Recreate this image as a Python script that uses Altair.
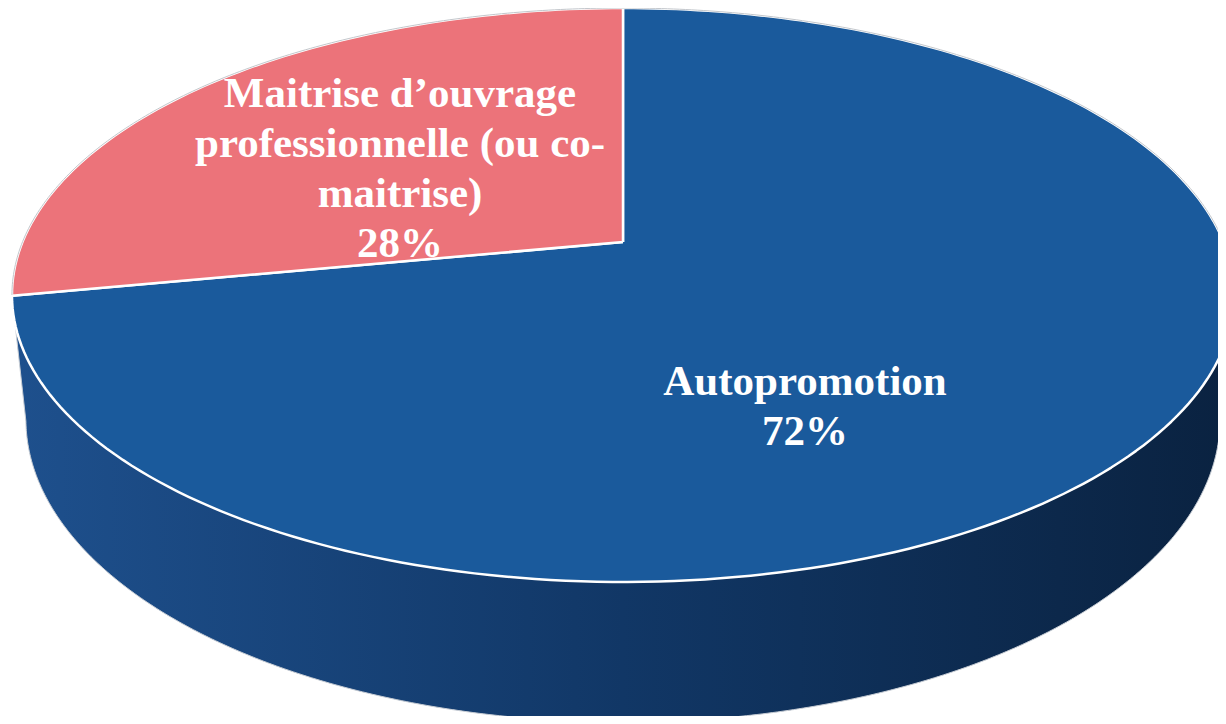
import numpy as np
import pandas as pd
import altair as alt

# ---------------- data ----------------
categories = ["Autopromotion", "Maitrise d’ouvrage professionnelle (ou co-maitrise)"]
values = [72, 28]
label_lines = [["Autopromotion"], ["Maitrise d’ouvrage", "professionnelle (ou co-", "maitrise)"]]

# ---------------- style / layout ----------------
top_colors = ["#1a5a9c", "#ec737a"]
side_stops = [
    ["#1e508d", "#113766", "#0a2240"],
    ["#b65a60", "#9a474c", "#7d3539"],
]
CX, CY = 623.0, 242.0          # screen position of the pie centre
F, D = 2885.0, 4.804           # perspective focal length / camera distance
TILT = np.radians(27.49)       # camera elevation
DEPTH = 0.235                  # pie thickness (in radius units)
label_pos = [(805, 395), (400, 107)]
W, H = 1210, 708


def proj(x, y, z):
    depth = D + y * np.cos(TILT) - z * np.sin(TILT)
    up = y * np.sin(TILT) + z * np.cos(TILT)
    return CX + F * x / depth, CY - F * up / depth


total = float(sum(values))
spans = [2 * np.pi * v / total for v in values]
starts = [np.pi / 2 - sum(spans[:i]) for i in range(len(values))]

# top faces
top_rows = []
for i, cat in enumerate(categories):
    a0, a1 = starts[i], starts[i] - spans[i]
    n = max(8, int(300 * spans[i] / (2 * np.pi)))
    ts = np.linspace(a0, a1, n)
    pts = [proj(0.0, 0.0, 0.0)]
    pts += [proj(np.cos(t), np.sin(t), 0.0) for t in ts]
    pts += [proj(0.0, 0.0, 0.0)]
    for k, (X, Y) in enumerate(pts):
        top_rows.append({"cat": cat, "idx": k, "X": X, "Y": Y})
df_top = pd.DataFrame(top_rows)

# thin grey outline of the back rim
p = np.cos(TILT) / D
vis_lo = np.pi + np.arcsin(p)
vis_hi = 2 * np.pi - np.arcsin(p)
back_ts = np.linspace(vis_hi - 2 * np.pi, vis_lo, 300)
df_back = pd.DataFrame(
    [{"idx": k, "X": proj(np.cos(t), np.sin(t), 0.0)[0], "Y": proj(np.cos(t), np.sin(t), 0.0)[1]}
     for k, t in enumerate(back_ts)]
)

# visible side wall (front part of the cylinder)
side_frames = []
for i, cat in enumerate(categories):
    a0, a1 = starts[i], starts[i] - spans[i]
    ts = np.linspace(a1, a0, 600)
    tm = np.mod(ts, 2 * np.pi)
    ts = ts[(tm >= vis_lo) & (tm <= vis_hi)]
    if len(ts) < 2:
        continue
    pts = [proj(np.cos(t), np.sin(t), 0.0) for t in ts]
    pts += [proj(np.cos(t), np.sin(t), -DEPTH) for t in ts[::-1]]
    pts += [pts[0]]
    rows = [{"cat": cat, "idx": k, "X": X, "Y": Y} for k, (X, Y) in enumerate(pts)]
    side_frames.append((i, pd.DataFrame(rows)))

# labels
text_rows = []
for i, cat in enumerate(categories):
    txt = "\n".join(label_lines[i] + [f"{values[i]}%"])
    text_rows.append({"cat": cat, "X": label_pos[i][0], "Y": label_pos[i][1], "label": txt})
df_text = pd.DataFrame(text_rows)

xs = alt.Scale(domain=[8, 8 + W], nice=False, zero=False)
ys = alt.Scale(domain=[8, 8 + H], nice=False, zero=False, reverse=True)

layers = []
for i, df_side in side_frames:
    grad = alt.Gradient(
        gradient="linear",
        stops=[alt.GradientStop(color=c, offset=o) for c, o in zip(side_stops[i], [0, 0.5, 1])],
        x1=0, x2=1, y1=0, y2=0,
    )
    layers.append(
        alt.Chart(df_side).mark_line(filled=True, fill=grad, stroke="#c6ccd4", strokeWidth=1).encode(
            x=alt.X("X:Q", scale=xs, axis=None),
            y=alt.Y("Y:Q", scale=ys, axis=None),
            order=alt.Order("idx:Q"),
        )
    )

layers.append(
    alt.Chart(df_top).mark_line(filled=True, stroke="#ffffff", strokeWidth=2.5, strokeJoin="round").encode(
        x=alt.X("X:Q", scale=xs, axis=None),
        y=alt.Y("Y:Q", scale=ys, axis=None),
        color=alt.Color("cat:N", scale=alt.Scale(domain=categories, range=top_colors), legend=None),
        detail="cat:N",
        order=alt.Order("idx:Q"),
    )
)

layers.append(
    alt.Chart(df_back).mark_line(stroke="#c3c7cc", strokeWidth=1).encode(
        x=alt.X("X:Q", scale=xs, axis=None),
        y=alt.Y("Y:Q", scale=ys, axis=None),
        order=alt.Order("idx:Q"),
    )
)

layers.append(
    alt.Chart(df_text).mark_text(
        lineBreak="\n", font="Liberation Serif", fontWeight="bold", fontSize=43,
        color="white", align="center", baseline="alphabetic", lineHeight=50,
    ).encode(
        x=alt.X("X:Q", scale=xs, axis=None),
        y=alt.Y("Y:Q", scale=ys, axis=None),
        text="label:N",
    )
)

chart = alt.layer(*layers).properties(
    width=W, height=H, padding=0, autosize="none"
).configure_view(stroke=None)

chart.save("out.html", embed_options={"renderer": "svg", "actions": False})
